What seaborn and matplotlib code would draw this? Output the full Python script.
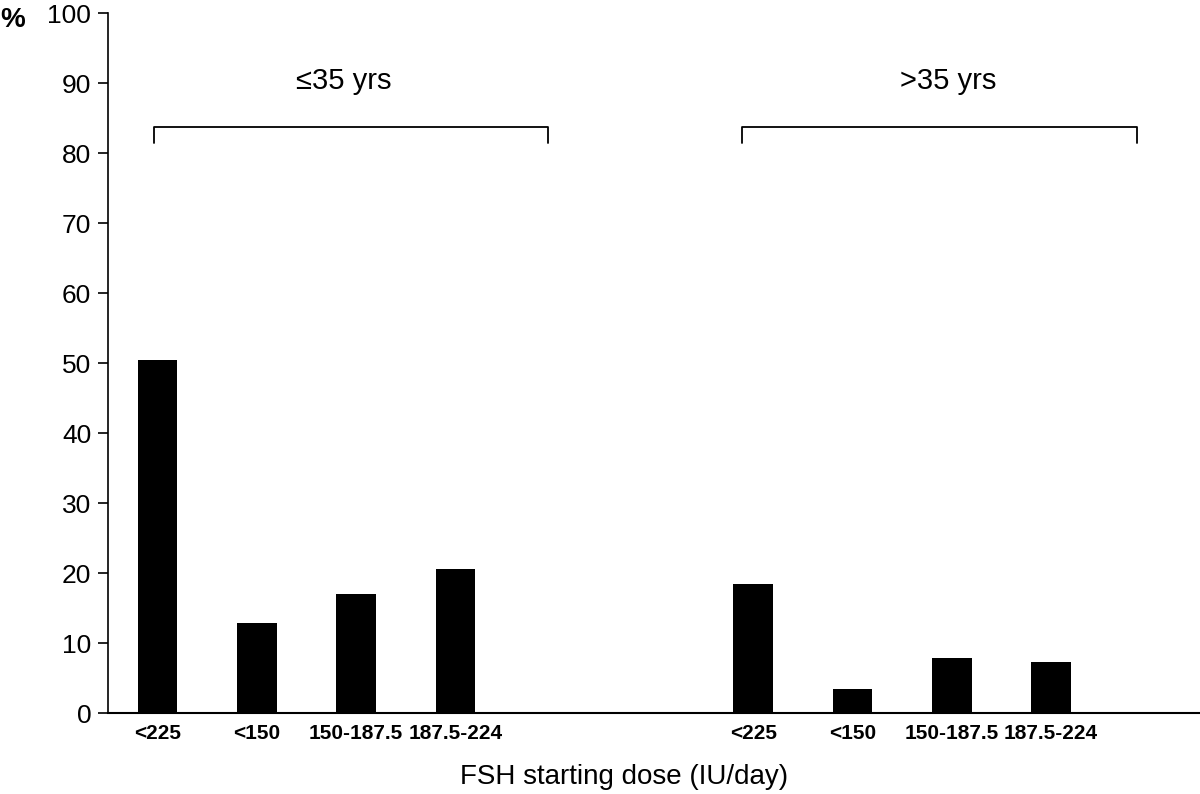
import pandas as pd
import seaborn as sns
import matplotlib.pyplot as plt

# Values
age_groups = ['\u226435 yrs', '>35 yrs']
doses = ['<225', '<150', '150-187.5', '187.5-224']
pct_young = [50.4, 12.9, 17.0, 20.6]
pct_old = [18.4, 3.4, 7.9, 7.3]

# Build a long table; second group starts 6 slots after the first
rows = []
for g, vals in enumerate([pct_young, pct_old]):
    for i, (d, v) in enumerate(zip(doses, vals)):
        rows.append({'group': age_groups[g], 'dose': d, 'pos': g * 6 + i, 'pct': v})
df = pd.DataFrame(rows)

sns.set_style('ticks', rc={'text.color': 'black', 'axes.labelcolor': 'black',
                           'xtick.color': 'black', 'ytick.color': 'black',
                           'axes.edgecolor': 'black'})
plt.rcParams['font.family'] = ['Liberation Sans', 'DejaVu Sans']

fig = plt.figure(figsize=(12, 7.94), dpi=100)
ax = fig.add_axes([0.09, 0.102, 0.91, 0.8815])

sns.barplot(data=df, x='pos', y='pct', native_scale=True, width=0.4,
            color='black', edgecolor='black', linewidth=0, ax=ax)

ax.set_xlim(-0.5, 10.5)
ax.set_ylim(0, 100)
ax.set_yticks(range(0, 101, 10))
ax.tick_params(axis='y', labelsize=19, length=7, width=1.2, pad=5)
ax.set_xticks(df['pos'])
ax.set_xticklabels(df['dose'], fontsize=15, fontweight='bold')
ax.tick_params(axis='x', length=0, pad=8)
ax.set_ylabel('')
ax.set_xlabel('')

sns.despine(ax=ax, top=True, right=True)
ax.spines['left'].set_linewidth(1.2)
ax.spines['bottom'].set_linewidth(1.5)

# Group brackets
spans = [(-0.04, 3.93), (5.89, 9.87)]
label_shift = [-0.07, 0.08]
for name, (x0, x1), dx in zip(age_groups, spans, label_shift):
    ax.plot([x0, x0, x1, x1], [81.4, 83.7, 83.7, 81.4], color='black', lw=1.3,
            clip_on=False)
    ax.text((x0 + x1) / 2 + dx, 90.3, name, ha='center', va='center', fontsize=21)

fig.text(624 / 1200, 1 - 777 / 794, 'FSH starting dose (IU/day)', fontsize=20,
         ha='center', va='center')
fig.text(13 / 1200, 1 - 20 / 794, '%', fontsize=20, fontweight='bold',
         ha='center', va='center')

fig.savefig('out.png', dpi=100)
